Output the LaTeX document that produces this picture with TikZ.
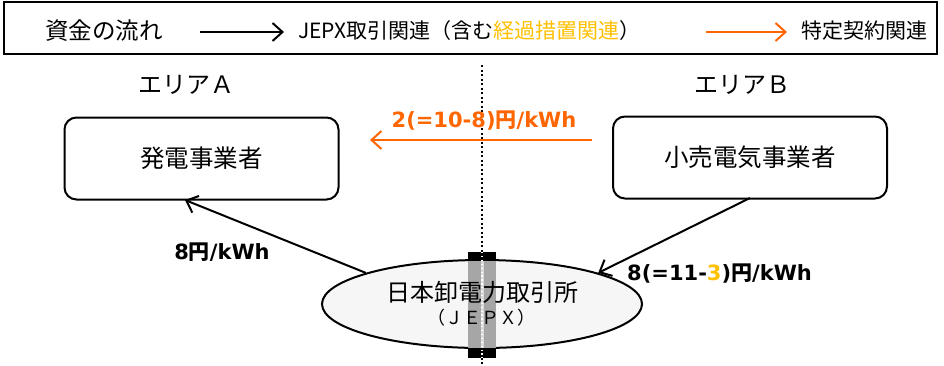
\documentclass[tikz,border=0pt]{standalone}
\usepackage{fontspec}
\setmainfont{Noto Sans CJK JP}
\newfontfamily\labf{DejaVu Sans}
\newfontfamily\cjk{Noto Sans CJK JP}
\usetikzlibrary{arrows.meta,shapes.geometric}
\definecolor{org}{HTML}{FF6600}
\definecolor{yel}{HTML}{FFC000}
\definecolor{barg}{HTML}{A6A6A6}
\definecolor{ellf}{HTML}{F6F6F6}
\begin{document}
\begin{tikzpicture}[x=1pt,y=-1pt,
  conn/.style={line width=2pt,-{Straight Barb[length=10pt,width=18pt,line width=2pt]}},
  actor/.style={draw,line width=2pt,rounded corners=12pt,minimum width=274pt,minimum height=82pt,font=\fontsize{24.5}{28}\selectfont},
  lbl/.style={font=\fontsize{21}{24}\selectfont\labf\bfseries,inner sep=0pt},
  legt/.style={font=\fontsize{21}{24}\selectfont,inner sep=0pt,anchor=west},
  area/.style={font=\fontsize{24}{28}\selectfont,inner sep=0pt},
  divider/.style={line width=2pt,dash pattern=on 2pt off 2.5pt}
]
\useasboundingbox (0,0) rectangle (944,365);
\fill[white] (0,0) rectangle (944,365);
% legend
\node[draw,line width=2pt,minimum width=933pt,minimum height=52pt,inner sep=0pt] (legend) at (470.5,28) {};
\node[legt,font=\fontsize{23.5}{27}\selectfont] (l1) at (45,31) {資金の流れ};
\coordinate (la1) at (200,32);
\coordinate (la2) at (284,32);
\draw[conn] (la1) -- (la2);
\node[legt] (l2) at (298,31) {JEPX取引関連（含む\textcolor{yel}{経過措置関連}）};
\coordinate (lb1) at (706,32);
\coordinate (lb2) at (787,32);
\draw[conn,org] (lb1) -- (lb2);
\node[legt] (l3) at (801,31) {特定契約関連};
% areas
\node[area] (aA) at (186,85) {エリアＡ};
\node[area] (aB) at (742,85) {エリアＢ};
% divider
\coordinate (dtop) at (482,65);
\coordinate (dbot) at (482,366);
\draw[divider] (dtop) -- (dbot);
% actors
\node[actor] (gen) at (201.5,158.5) {発電事業者};
\node[actor] (ret) at (750,157.5) {小売電気事業者};
% JEPX
\node[draw,line width=2pt,fill=ellf,ellipse,minimum width=320pt,minimum height=88pt,inner sep=0pt] (jepx) at (482,304) {};
\fill[barg] (468,252) rectangle (496,358);
\fill[black] (468,252) rectangle (496,261);
\fill[black] (468,348) rectangle (496,358);
\draw[gray!30,line width=3pt] (482,261) -- (482,348);
\draw[white,line width=1.3pt,dash pattern=on 1.3pt off 2.6pt] (482,252) -- (482,358);
\node[font=\fontsize{24}{28}\selectfont,inner sep=0pt] (jt1) at (482,292) {日本卸電力取引所};
\node[font=\fontsize{18}{21}\selectfont,inner sep=0pt] (jt2) at (481,318) {（ＪＥＰＸ）};
% connectors
\coordinate (os) at (592,140);
\coordinate (oe) at (370,140);
\draw[conn,org] (os) -- (oe);
\node[lbl,text=org] (p1) at (484,121) {2(=10-8){\cjk\bfseries 円}/kWh};
\coordinate (gb) at (185,200);
\draw[conn] (jepx.165) -- (gb);
\node[lbl] (p2) at (222,252) {8{\cjk\bfseries 円}/kWh};
\coordinate (rb) at (750,198);
\draw[conn] (rb) -- (jepx.15);
\node[lbl,anchor=west] (p3) at (627,274) {8(=11-\textcolor{yel}{3}){\cjk\bfseries 円}/kWh};
\end{tikzpicture}
\end{document}
